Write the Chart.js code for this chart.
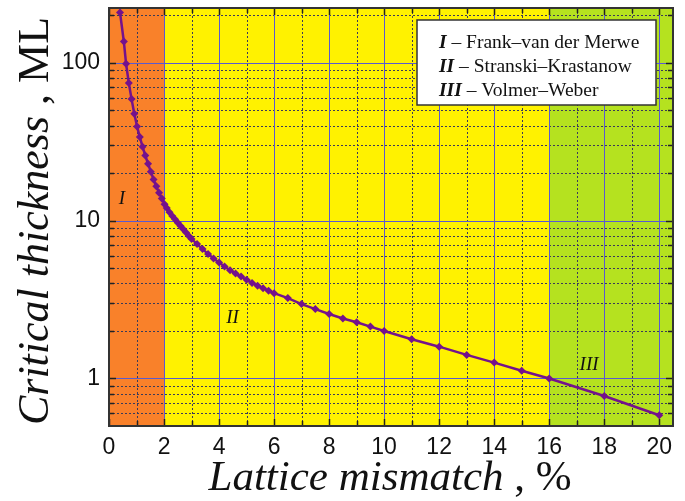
<!DOCTYPE html>
<html>
<head>
<meta charset="utf-8">
<script src="https://cdn.jsdelivr.net/npm/chart.js@4.4.1/dist/chart.umd.min.js"></script>
<style>
  html, body { margin: 0; padding: 0; background: #fff; }
  canvas { display: block; }
</style>
</head>
<body>
<canvas id="chart" width="685" height="501"></canvas>
<script>
// lattice mismatch, %
const mismatch = [
  0.40, 0.54, 0.62, 0.72, 0.82, 0.92, 1.02, 1.12, 1.22, 1.32, 1.42, 1.52, 1.62, 1.72, 1.82, 1.92, 2.02,
  2.1, 2.2, 2.3, 2.4, 2.5, 2.6, 2.7, 2.8, 2.9, 3.0,
  3.2, 3.4, 3.6, 3.8, 4.0, 4.2, 4.4, 4.6, 4.8, 5.0, 5.2, 5.4, 5.6, 5.8, 6.0,
  6.5, 7.0, 7.5, 8.0, 8.5, 9.0, 9.5, 10,
  11, 12, 13, 14, 15, 16, 18, 20
];
// critical thickness, ML
const thickness = [
  208, 136, 98.6, 74.3, 58.8, 47.5, 39.4, 33.8, 29.4, 25.8, 22.9, 20.4, 18.2, 16.5, 15.0, 13.8, 12.7,
  12.0, 11.3, 10.7, 10.2, 9.7, 9.25, 8.8, 8.4, 8.0, 7.65,
  7.1, 6.6, 6.15, 5.75, 5.43, 5.12, 4.85, 4.62, 4.42, 4.22, 4.03, 3.87, 3.73, 3.6, 3.47,
  3.23, 2.96, 2.75, 2.56, 2.40, 2.27, 2.13, 2.0,
  1.77, 1.59, 1.41, 1.26, 1.12, 1.0, 0.775, 0.585
];

const xTicks = [0, 2, 4, 6, 8, 10, 12, 14, 16, 18, 20];
const xMinor = [1, 3, 5, 7, 9, 11, 13, 15, 17, 19];
const yTicks = [1, 10, 100];
const yMinor = [0.6, 0.7, 0.8, 0.9, 2, 3, 4, 5, 6, 7, 8, 9, 20, 30, 40, 50, 60, 70, 80, 90, 200];

// growth-mode regions along the mismatch axis
const regionEdges = [0, 2, 16, 20.5];
const regionNames = ["I", "II", "III"];
const regionColors = ["#f9812a", "#fff200", "#b5e21f"];

const legendNames = ["Frank\u2013van der Merwe", "Stranski\u2013Krastanow", "Volmer\u2013Weber"];

const SERIF = '"Liberation Serif", "Times New Roman", serif';
const SANS = '"Liberation Sans", Arial, sans-serif';

function drawParts(ctx, parts, x, y) {
  parts.forEach(p => {
    ctx.font = p.font;
    ctx.fillText(p.text, x, y);
    x += ctx.measureText(p.text).width;
  });
}

function partsWidth(ctx, parts) {
  return parts.reduce((w, p) => { ctx.font = p.font; return w + ctx.measureText(p.text).width; }, 0);
}

const decorations = {
  id: "decorations",
  beforeDraw(chart) {
    const { ctx, chartArea: a, scales: { x, y } } = chart;
    ctx.save();
    // colored regions
    regionColors.forEach((c, i) => {
      const x0 = x.getPixelForValue(regionEdges[i]);
      const x1 = x.getPixelForValue(regionEdges[i + 1]);
      ctx.fillStyle = c;
      ctx.fillRect(x0, a.top, x1 - x0, a.bottom - a.top);
    });
    // minor grid, dotted
    ctx.lineWidth = 1;
    ctx.strokeStyle = "#3a3a5a";
    ctx.setLineDash([2, 2]);
    ctx.beginPath();
    xMinor.forEach(v => {
      const px = Math.round(x.getPixelForValue(v)) + 0.5;
      ctx.moveTo(px, a.top); ctx.lineTo(px, a.bottom);
    });
    yMinor.forEach(v => {
      const py = Math.round(y.getPixelForValue(v)) + 0.5;
      ctx.moveTo(a.left, py); ctx.lineTo(a.right, py);
    });
    ctx.stroke();
    // major grid, solid blue
    ctx.setLineDash([]);
    ctx.strokeStyle = "#5a5ad0";
    ctx.beginPath();
    xTicks.forEach(v => {
      const px = Math.round(x.getPixelForValue(v)) + 0.5;
      ctx.moveTo(px, a.top); ctx.lineTo(px, a.bottom);
    });
    yTicks.forEach(v => {
      const py = Math.round(y.getPixelForValue(v)) + 0.5;
      ctx.moveTo(a.left, py); ctx.lineTo(a.right, py);
    });
    ctx.stroke();
    ctx.restore();
  },
  afterDatasetsDraw(chart) {
    const { ctx, chartArea: a, scales: { x, y } } = chart;
    ctx.save();
    // inner tick marks
    ctx.strokeStyle = "#222";
    ctx.lineWidth = 1.5;
    ctx.beginPath();
    xTicks.concat(xMinor).forEach(v => {
      const px = Math.round(x.getPixelForValue(v)) + 0.5;
      const len = xTicks.includes(v) ? 7 : 5;
      ctx.moveTo(px, a.bottom); ctx.lineTo(px, a.bottom - len);
      ctx.moveTo(px, a.top); ctx.lineTo(px, a.top + len);
    });
    yTicks.concat(yMinor).forEach(v => {
      const py = Math.round(y.getPixelForValue(v)) + 0.5;
      const len = yTicks.includes(v) ? 7 : 5;
      ctx.moveTo(a.left, py); ctx.lineTo(a.left + len, py);
      ctx.moveTo(a.right, py); ctx.lineTo(a.right - len, py);
    });
    ctx.stroke();
    // frame
    ctx.lineWidth = 2;
    ctx.strokeStyle = "#333";
    ctx.strokeRect(a.left, a.top, a.right - a.left, a.bottom - a.top);

    // region labels
    ctx.fillStyle = "#111";
    ctx.font = "italic 19px " + SERIF;
    ctx.textAlign = "center";
    ctx.textBaseline = "middle";
    ctx.fillText(regionNames[0], x.getPixelForValue(0.47), y.getPixelForValue(13.6));
    ctx.fillText(regionNames[1], x.getPixelForValue(4.49), y.getPixelForValue(2.4));
    ctx.fillText(regionNames[2], x.getPixelForValue(17.45), y.getPixelForValue(1.21));

    // legend box
    ctx.fillStyle = "#fff";
    ctx.fillRect(417, 20, 239, 85);
    ctx.lineWidth = 1.5;
    ctx.strokeStyle = "#333";
    ctx.strokeRect(417, 20, 239, 85);
    ctx.textAlign = "left";
    ctx.textBaseline = "alphabetic";
    ctx.fillStyle = "#111";
    regionNames.forEach((n, i) => {
      drawParts(ctx, [
        { text: n, font: "italic bold 19.5px " + SERIF },
        { text: " \u2013 " + legendNames[i], font: "19.5px " + SERIF }
      ], 439, 48 + i * 24);
    });

    // axis titles
    const xt = [
      { text: "Lattice mismatch", font: "italic 43px " + SERIF },
      { text: " , %", font: "43px " + SERIF }
    ];
    drawParts(ctx, xt, 390 - partsWidth(ctx, xt) / 2, 490);

    const yt = [
      { text: "Critical thickness", font: "italic 44px " + SERIF },
      { text: " , ML", font: "44px " + SERIF }
    ];
    ctx.translate(48, 221);
    ctx.rotate(-Math.PI / 2);
    drawParts(ctx, yt, -partsWidth(ctx, yt) / 2, 0);
    ctx.restore();
  }
};

new Chart(document.getElementById("chart"), {
  type: "line",
  data: {
    datasets: [{
      data: mismatch.map((m, i) => ({ x: m, y: thickness[i] })),
      borderColor: "#74128c",
      backgroundColor: "#74128c",
      borderWidth: 2.5,
      pointStyle: "rectRot",
      pointRadius: 4,
      pointBorderWidth: 0,
      tension: 0
    }]
  },
  options: {
    responsive: false,
    animation: false,
    devicePixelRatio: 1,
    layout: { padding: { left: 0, top: 8, right: 12, bottom: 0 } },
    plugins: { legend: { display: false }, tooltip: { enabled: false } },
    scales: {
      x: {
        type: "linear",
        min: 0,
        max: 20.5,
        afterBuildTicks: s => { s.ticks = xTicks.map(v => ({ value: v })); },
        afterFit: s => { s.height = 75; s.paddingLeft = 0; s.paddingRight = 0; },
        grid: { display: false, drawTicks: false },
        border: { display: false },
        ticks: { font: { family: SANS, size: 23 }, color: "#111", padding: 8, maxRotation: 0, callback: v => String(v) }
      },
      y: {
        type: "logarithmic",
        min: 0.5,
        max: 222,
        afterBuildTicks: s => { s.ticks = yTicks.map(v => ({ value: v })); },
        afterFit: s => { s.width = 109; s.paddingTop = 0; s.paddingBottom = 0; },
        grid: { display: false, drawTicks: false },
        border: { display: false },
        ticks: { font: { family: SANS, size: 23 }, color: "#111", padding: 9, callback: v => String(v) }
      }
    }
  },
  plugins: [decorations]
});
</script>
</body>
</html>
